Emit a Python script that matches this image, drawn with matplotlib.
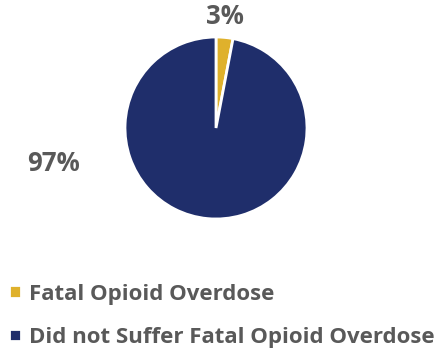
import matplotlib
matplotlib.use('Agg')
import matplotlib.pyplot as plt

labels = ['Fatal Opioid Overdose', 'Did not Suffer Fatal Opioid Overdose']
values = [3, 97]
pct_text = ['3%', '97%']
colors = ['#DFB12C', '#1F2E6B']

plt.rcParams['font.family'] = ['Open Sans', 'DejaVu Sans']
grey = '#595959'

fig = plt.figure(figsize=(4.37, 3.51), dpi=100)
W, H = 437, 351
cx, cy, r = 216, 128, 91
ax = fig.add_axes([(cx - r) / W, (H - cy - r) / H, 2 * r / W, 2 * r / H])
wedges, _ = ax.pie(values, colors=colors, startangle=90, counterclock=False,
                   radius=1, wedgeprops=dict(edgecolor='white', linewidth=2))
ax.set_xlim(-1, 1)
ax.set_ylim(-1, 1)
ax.set_aspect('equal')

ax.text(0.1, 1.22, pct_text[0], ha='center', va='center', fontsize=18.5,
        fontweight='bold', color=grey, clip_on=False)
ax.text(-1.79, -0.39, pct_text[1], ha='center', va='center', fontsize=18.5,
        fontweight='bold', color=grey, clip_on=False)

leg = fig.legend(wedges, labels, loc='upper left', bbox_to_anchor=(-0.014, 1 - 268 / H),
                 frameon=False, fontsize=16, handlelength=0.5, handleheight=0.5,
                 handletextpad=0.38, labelspacing=1.0, borderpad=0.2)
for t in leg.get_texts():
    t.set_color(grey)
    t.set_fontweight('bold')

fig.savefig('out.png', dpi=100)
